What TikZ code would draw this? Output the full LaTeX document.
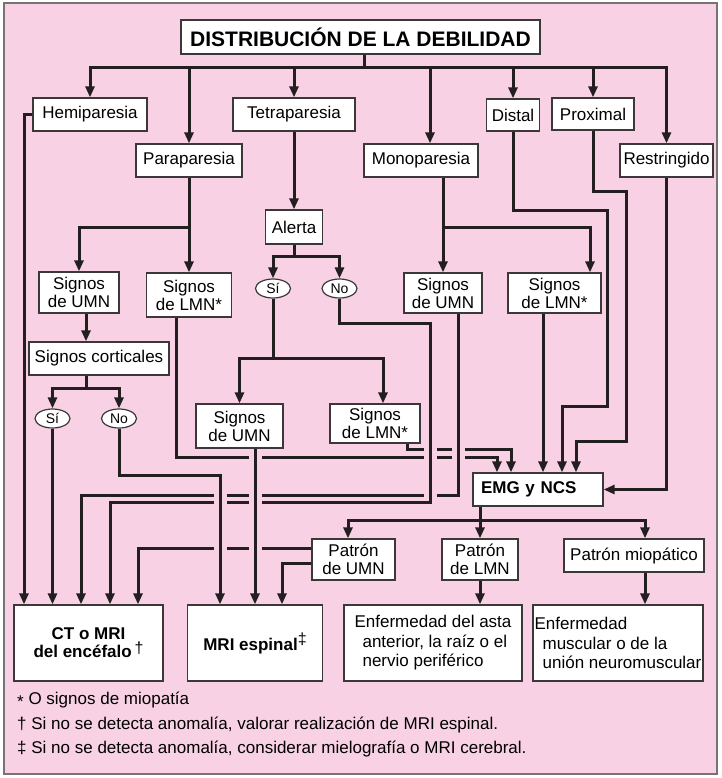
\documentclass[tikz,border=0pt]{standalone}
\usepackage{fontspec}
\setmainfont{Liberation Sans}
\usetikzlibrary{arrows.meta,shapes.geometric}
\definecolor{fondo}{RGB}{248,209,228}
\definecolor{trazo}{RGB}{35,31,32}
\definecolor{borde}{RGB}{60,56,57}
\newcommand{\letra}{\fontsize{17}{18}\selectfont}
\newcommand{\daga}{\raisebox{4pt}{\normalfont\fontsize{16}{16}\selectfont †}}
\newcommand{\ddaga}{\raisebox{6pt}{\normalfont\fontsize{16}{16}\selectfont ‡}}
\begin{document}
\begin{tikzpicture}[x=1pt,y=-1pt,
    caja/.style={draw=borde,line width=1.3pt,fill=white,inner sep=0pt,align=center,font=\letra},
    tam/.style 2 args={minimum width=#1pt,minimum height=#2pt},
    ovalo/.style={ellipse,draw=borde,line width=1.2pt,fill=white,inner sep=0pt,
      minimum width=35pt,minimum height=19pt,font=\fontsize{14}{14}\selectfont},
    linea/.style={draw=trazo,line width=3pt},
    flecha/.style={linea,-{Triangle[length=11pt,width=9pt]}},
    nota/.style={anchor=base west,inner sep=0pt,font=\fontsize{17}{17}\selectfont}]
      \fill[white] (0,0) rectangle (721,778);
      \filldraw[fill=fondo,draw=borde!70,line width=1.2pt] (4,3) rectangle (717,774);
      \useasboundingbox (0,0) rectangle (721,778);

      \node (titulo) at (360.5,37) [caja,tam={359}{34},font=\fontsize{21}{22}\selectfont\bfseries]{DISTRIBUCIÓN DE LA DEBILIDAD};
      \node (hemi) at (90,114.5) [caja,tam={114}{33}]{Hemiparesia};
      \node (tetra) at (294,114.5) [caja,tam={122}{33}]{Tetraparesia};
      \node (distal) at (513,115) [caja,tam={53}{32}]{Distal};
      \node (prox) at (593,114) [caja,tam={82}{32}]{Proximal};
      \node (para) at (189,160.5) [caja,tam={106}{33}]{Paraparesia};
      \node (mono) at (421,160.5) [caja,tam={114}{33}]{Monoparesia};
      \node (restr) at (666.5,160.5) [caja,tam={93}{33}]{Restringido};
      \node (alerta) at (294,227) [caja,tam={57}{34}]{Alerta};
      \node (umnA) at (79,292.5) [caja,tam={80}{41}]{Signos\\de UMN};
      \node (lmnA) at (189,295) [caja,tam={85}{44}]{Signos\\de LMN*};
      \node (cortic) at (99,358.5) [caja,tam={140}{33}]{Signos corticales};
      \node (siA) at (52.5,418.5) [ovalo]{Sí};
      \node (noA) at (119,418.5) [ovalo]{No};
      \node (siB) at (273,288.5) [ovalo]{Sí};
      \node (noB) at (339.5,288.5) [ovalo]{No};
      \node (umnB) at (239.5,426) [caja,tam={87}{44}]{Signos\\de UMN};
      \node (lmnB) at (375,423.5) [caja,tam={90}{39}]{Signos\\de LMN*};
      \node (umnC) at (443,293) [caja,tam={78}{40}]{Signos\\de UMN};
      \node (lmnC) at (554.5,293) [caja,tam={93}{40}]{Signos\\de LMN*};
      \node (emg) at (538,489.5) [caja,tam={130}{33},align=left,text width=114pt,font=\letra\bfseries]{EMG y NCS};
      \node (pumn) at (353.5,559.5) [caja,tam={83}{41}]{Patrón\\de UMN};
      \node (plmn) at (480,559.5) [caja,tam={76}{41}]{Patrón\\de LMN};
      \node (pmio) at (634,555.5) [caja,tam={140}{33}]{Patrón miopático};
      \node (ct) at (88.5,643) [caja,tam={149}{76},font=\letra\bfseries]{CT o MRI\\del encéfalo\,\daga};
      \node (mri) at (255,643) [caja,tam={135}{76},font=\letra\bfseries]{MRI espinal\ddaga};
      \node (asta) at (433,643) [caja,tam={178}{76},align=left,font=\fontsize{17}{19.5}\selectfont]
          {Enfermedad del asta\\\hspace*{8pt}anterior, la raíz o el\\\hspace*{8pt}nervio periférico};
      \node (musc) at (618,643) [caja,tam={170}{76},align=left,font=\fontsize{17}{19.5}\selectfont]
          {Enfermedad\\\hspace*{8pt}muscular o de la\\\hspace*{8pt}unión neuromuscular};

      \node (n1) at (17,704) [nota]{\raisebox{-3pt}{*} O signos de miopatía};
      \node (n2) at (17,729) [nota]{† Si no se detecta anomalía, valorar realización de MRI espinal.};
      \node (n3) at (17,753) [nota]{‡ Si no se detecta anomalía, considerar mielografía o MRI cerebral.};

      \coordinate (bus) at (364,68);
      \draw[linea] ([xshift=3.5pt]titulo.south) -- (bus);
      \foreach \n in {hemi,para,tetra,distal,prox,restr}
      {
          \draw[flecha] (bus) -| (\n.north);
      }
      \draw[flecha] (bus) -| ([xshift=9pt]mono.north);

      \draw[flecha] (hemi.west) -| ([xshift=-64.5pt]ct.north);
      \draw[flecha] (para.south) -- (lmnA.north);
      \draw[flecha] (para.south) -- ++(0,50) -| (umnA.north);
      \draw[flecha] ([xshift=7pt]umnA.south) -- ([xshift=7pt]umnA.south |- cortic.north);
      \draw[flecha] ([xshift=-13pt]cortic.south) -- ++(0,13) -| (siA.north);
      \draw[flecha] ([xshift=-13pt]cortic.south) -- ++(0,13) -| (noA.north);
      \draw[flecha] (siA.south) -- (siA.south |- ct.north);

      \draw[flecha] (tetra.south) -- (alerta.north);
      \draw[flecha] (alerta.south) -- ++(0,12) -| (siB.north);
      \draw[flecha] (alerta.south) -- ++(0,12) -| (noB.north);
      \draw[flecha] (siB.south) -- ++(0,60) -| (umnB.north);
      \draw[flecha] (siB.south) -- ++(0,60) -| ([xshift=8pt]lmnB.north);

      \draw[flecha] ([xshift=22pt]mono.south) -- ([xshift=22pt]mono.south |- umnC.north);
      \draw[flecha] ([xshift=22pt]mono.south) -- ++(0,50) -| ([xshift=35.5pt]lmnC.north);
      \draw[flecha] ([xshift=-11.5pt]lmnC.south) -- ([xshift=-11.5pt]lmnC.south |- emg.north);
      \draw[flecha] (distal.south) -- ++(0,79) -| (607,406) -| ([xshift=24pt]emg.north);
      \draw[flecha] (prox.south) -- ++(0,61) -| (626,441) -| ([xshift=38pt]emg.north);
      \draw[flecha] (restr.south) |- (emg.east);

      \draw[flecha] ([xshift=-58pt]emg.south) -- ++(0,14) -| ([xshift=-5.5pt]pumn.north);
      \draw[flecha] ([xshift=-58pt]emg.south) -- ++(0,14) -| (plmn.north);
      \draw[flecha] ([xshift=-58pt]emg.south) -- ++(0,14) -| ([xshift=11pt]pmio.north);
      \draw[flecha] (plmn.south) -- (plmn.south |- asta.north);
      \draw[flecha] ([xshift=11pt]pmio.south) -- ([xshift=11pt]pmio.south |- musc.north);

      % lines that cross, with gaps
      \draw[flecha] ([xshift=-13pt]lmnA.south) -- ++(0,140) -| ([xshift=-41pt]emg.north);
      \draw[flecha] ([xshift=32pt]lmnB.south) -- ++(0,6) -| ([xshift=-27pt]emg.north);
      \draw[flecha] ([yshift=11.5pt]pumn.west) -| ([xshift=49.5pt]ct.north);
      \draw[flecha] ([yshift=-3.5pt]pumn.west) -| ([xshift=27pt]mri.north);
      \foreach \gx/\gy in {255/457,430/457,458/457,430/449,458/449,220/548,255/548}
      {
          \fill[fondo] (\gx,\gy) ++(-6.5,-3) rectangle ++(13,6);
      }
      \draw[flecha] ([xshift=15pt]umnC.south) -- ++(0,182) -| ([xshift=-7.5pt]ct.north);
      \foreach \gx/\gy in {430/495,255/495,220/495}
      {
          \fill[fondo] (\gx,\gy) ++(-6.5,-3) rectangle ++(13,6);
      }
      \draw[flecha] (noB.south) -- ++(0,25) -| (430,502) -| ([xshift=21.5pt]ct.north);
      \foreach \gx/\gy in {255/502,220/502}
      {
          \fill[fondo] (\gx,\gy) ++(-6.5,-3) rectangle ++(13,6);
      }
      \draw[flecha] (noA.south) -- ++(0,47) -| ([xshift=-35pt]mri.north);
      \draw[flecha] ([xshift=15.5pt]umnB.south) -- ([xshift=15.5pt]umnB.south |- mri.north);

\end{tikzpicture}
\end{document}
